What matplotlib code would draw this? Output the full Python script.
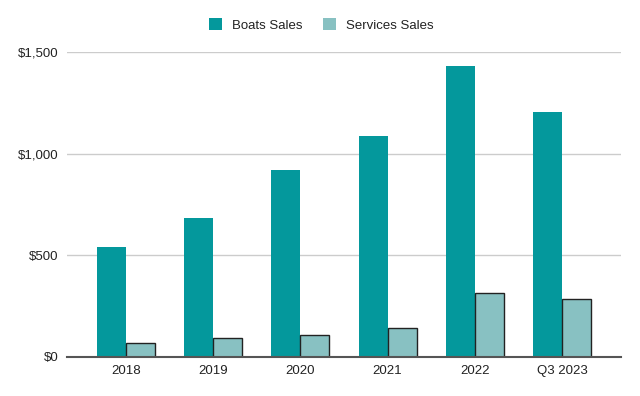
import numpy as np
import matplotlib.pyplot as plt

plt.rcParams['font.family'] = ['Liberation Sans', 'DejaVu Sans']

years = ["2018", "2019", "2020", "2021", "2022", "Q3 2023"]
boats_sales = [539, 682, 919, 1086, 1431, 1204]
services_sales = [68, 90, 104, 140, 314, 282]

x = np.arange(len(years))
w = 0.333

fig = plt.figure(figsize=(6.4, 3.96), dpi=100)
ax = fig.add_axes([0.1047, 0.0997, 0.8656, 0.769])

ax.bar(x - w / 2, boats_sales, w, color="#04989c", label="Boats Sales", zorder=3)
ax.bar(x + w / 2, services_sales, w, color="#88c1c2", edgecolor="#222222",
       linewidth=1.0, label="Services Sales", zorder=3)

ax.set_xlim(-0.677, len(years) - 1 + 0.677)
ax.set_ylim(0, 1500)
ax.set_yticks([0, 500, 1000, 1500])
ax.set_yticklabels(["$0", "$500", "$1,000", "$1,500"])
ax.set_xticks(x)
ax.set_xticklabels(years)
ax.grid(axis="y", color="#cccccc", linewidth=1, zorder=0)
ax.tick_params(length=0, labelsize=9.5, colors="#222222", pad=6)
for s in ["top", "right", "left"]:
    ax.spines[s].set_visible(False)
ax.spines["bottom"].set_color("#555555")
ax.spines["bottom"].set_linewidth(1.5)
ax.spines["bottom"].set_zorder(4)

leg = fig.legend(loc="center", bbox_to_anchor=(0.502, 0.937), ncol=2, frameon=False,
                 fontsize=9.5, handlelength=1.0, handleheight=1.0, columnspacing=1.6,
                 handletextpad=0.7)
for h in leg.legend_handles:
    h.set_edgecolor("none")
for t in leg.get_texts():
    t.set_color("#222222")

fig.savefig("out.png", dpi=100)
